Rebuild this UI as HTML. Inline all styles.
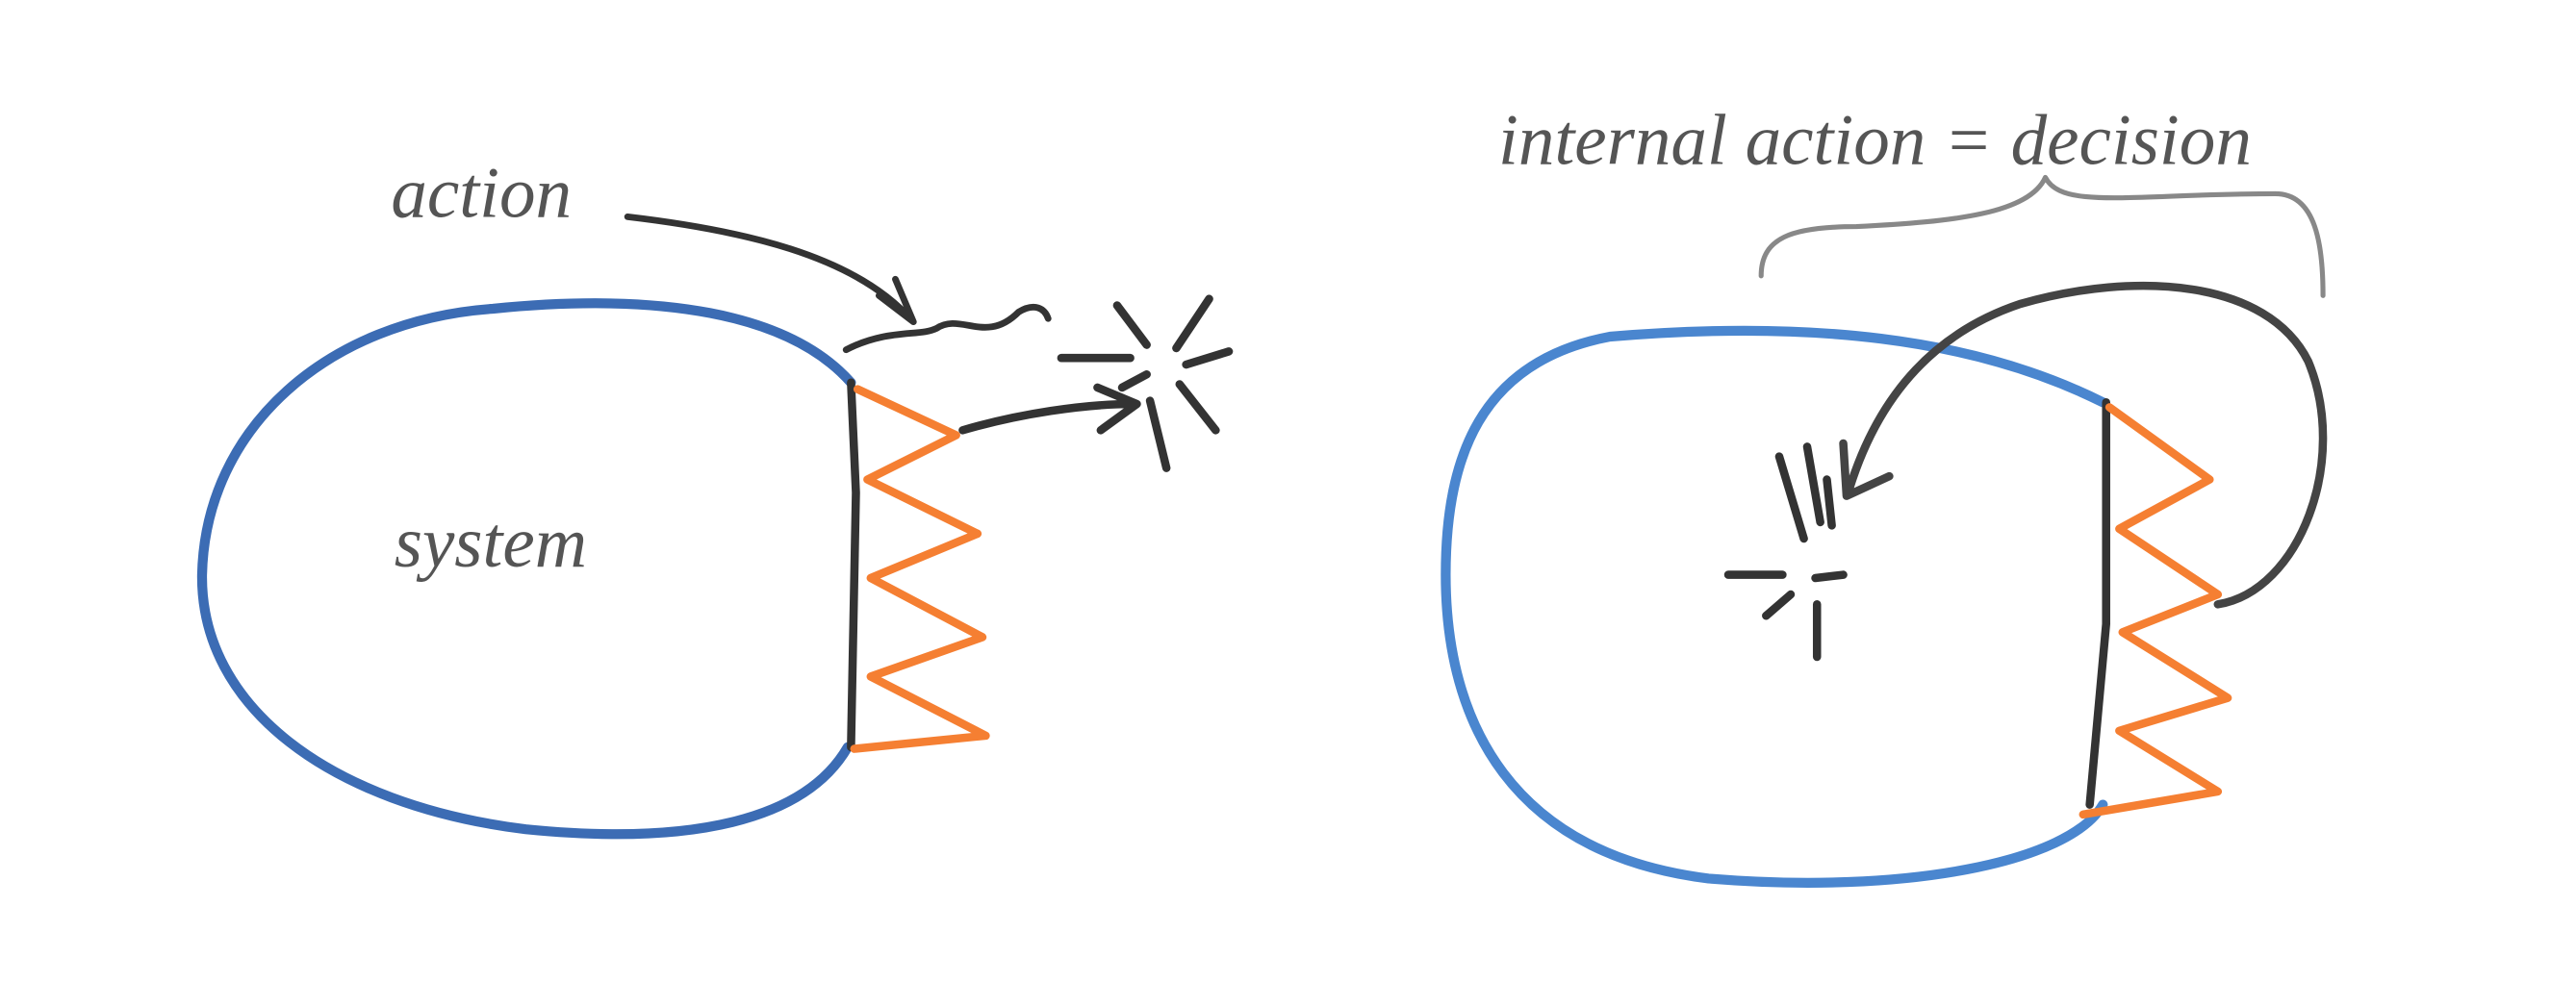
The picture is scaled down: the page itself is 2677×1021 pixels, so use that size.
<!DOCTYPE html>
<html><head><meta charset="utf-8"><style>
html,body{margin:0;padding:0;background:#fff;}
svg{display:block;}
text{font-family:"Liberation Serif",serif;font-style:italic;fill:#555;}
</style></head><body>
<svg width="2677" height="1021" viewBox="0 0 1568 598" preserveAspectRatio="none" xmlns="http://www.w3.org/2000/svg">
<rect width="1568" height="598" fill="#fff"/>
<g fill="none" stroke-linecap="round" stroke-linejoin="round">
<path d="M518,233 C480,190 400,178 300,188 C200,195 125,260 123,350 C122,430 200,490 320,505 C420,515 490,500 516,455" stroke="#3c6cb4" stroke-width="6"/>
<path d="M518,233 L521,300 L518,455" stroke="#333" stroke-width="5"/>
<path d="M522,237 L582,265 L528,292 L595,325 L530,352 L598,388 L530,412 L600,448 L520,456" stroke="#f57f32" stroke-width="5"/>
<path d="M586,262 C620,252 660,246 690,246 M668,236 L692,246 L670,262" stroke="#333" stroke-width="5"/>
<g stroke="#333" stroke-width="5">
<path d="M680,186 L698,210 M736,182 L716,212 M646,218 L688,218 M722,222 L748,214 M683,236 L698,228 M718,234 L740,262 M700,244 L710,285"/>
</g>
<text x="238" y="132" font-size="44">action</text>
<path d="M382,132 C450,140 520,155 555,195 M535,180 L556,196 L545,170" stroke="#333" stroke-width="4"/>
<path d="M515,213 C540,200 560,205 570,200 C585,190 600,210 620,190 C630,184 636,188 638,194" stroke="#333" stroke-width="4"/>
<text x="240" y="345" font-size="44">system</text>
</g>
<g fill="none" stroke-linecap="round" stroke-linejoin="round">
<path d="M1280,245 C1200,205 1100,195 980,205 C900,220 880,280 880,350 C880,440 920,520 1040,535 C1160,545 1260,525 1280,490" stroke="#4a86cf" stroke-width="6"/>
<path d="M1282,245 L1282,380 L1272,490" stroke="#333" stroke-width="5"/>
<path d="M1284,248 L1345,292 L1290,322 L1350,362 L1292,385 L1356,425 L1290,445 L1350,482 L1268,496" stroke="#f57f32" stroke-width="5"/>
<path d="M1350,368 C1400,360 1430,280 1405,220 C1380,170 1300,165 1230,185 C1170,205 1140,250 1125,300 M1122,270 L1124,302 L1150,290" stroke="#444" stroke-width="5"/>
<g stroke="#333" stroke-width="5">
<path d="M1083,278 L1098,328 M1100,272 L1108,318 M1112,292 L1115,320 M1052,350 L1085,350 M1105,352 L1122,350 M1075,375 L1090,362 M1106,368 L1106,400"/>
</g>
<path d="M1072,168 C1072,145 1090,138 1130,138 C1190,135 1235,130 1245,108 C1255,128 1300,118 1385,118 C1410,118 1414,150 1414,180" stroke="#888" stroke-width="3"/>
<text x="912" y="100" font-size="44">internal action = decision</text>
</g>
</svg>
</body></html>
